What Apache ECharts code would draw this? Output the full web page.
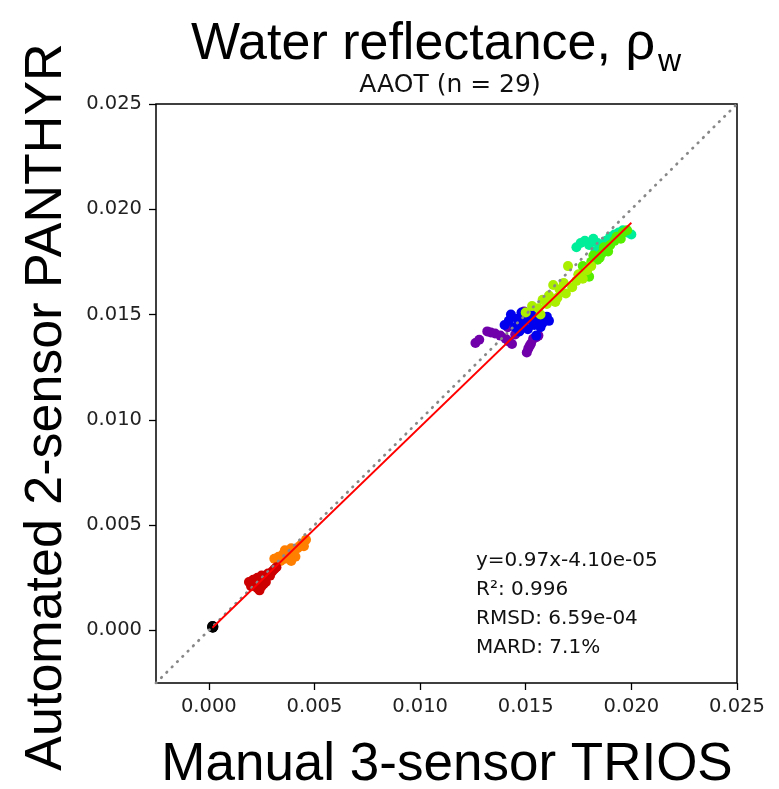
<!DOCTYPE html>
<html>
<head>
<meta charset="utf-8">
<script src="https://cdn.jsdelivr.net/npm/echarts@6/dist/echarts.min.js"></script>
<style>
  html, body { margin: 0; padding: 0; background: #fff; }
  #chart { width: 779px; height: 789px; }
</style>
</head>
<body>
<div id="chart"></div>
<script>
// === Données ===
const axisMin = -0.0025;
const axisMax = 0.025;
const tickValues = [0, 0.005, 0.010, 0.015, 0.020, 0.025];

const violetX = [0.01262, 0.01280, 0.01318, 0.01335, 0.01355, 0.01380, 0.01405, 0.01420, 0.01435, 0.01450, 0.01415, 0.01490, 0.01480, 0.01505, 0.01512, 0.01518, 0.01525, 0.01535, 0.01550, 0.01560, 0.01492, 0.01478];
const violetY = [0.01365, 0.01380, 0.01420, 0.01415, 0.01410, 0.01400, 0.01385, 0.01372, 0.01360, 0.01405, 0.01440, 0.01495, 0.01470, 0.01320, 0.01338, 0.01350, 0.01362, 0.01385, 0.01392, 0.01400, 0.01515, 0.01445];

const bleuX = [0.0140, 0.0142, 0.0143, 0.0145, 0.0146, 0.0148, 0.0149, 0.0150, 0.0152, 0.0153, 0.0154, 0.0155, 0.0156, 0.0157, 0.0158, 0.0160, 0.0161, 0.0151, 0.0147, 0.0155];
const bleuY = [0.0145, 0.0147, 0.0150, 0.0144, 0.0148, 0.0151, 0.0146, 0.0149, 0.0150, 0.0147, 0.0145, 0.0151, 0.0148, 0.0144, 0.0146, 0.0149, 0.0147, 0.0143, 0.0142, 0.0140];

const cyanX = [0.0174, 0.0176, 0.0178, 0.0180, 0.0182, 0.0184, 0.0186, 0.0188, 0.0190, 0.0192, 0.0194, 0.0196, 0.0198, 0.0200, 0.0183, 0.0189];
const cyanY = [0.0182, 0.0184, 0.0185, 0.0183, 0.0186, 0.0184, 0.0182, 0.0185, 0.0187, 0.0188, 0.0189, 0.0190, 0.0189, 0.0188, 0.0180, 0.0183];

const vertX = [0.0175, 0.0177, 0.0179, 0.0181, 0.0182, 0.0184, 0.0186, 0.0187, 0.0189, 0.0190, 0.0192, 0.0193, 0.0195, 0.0196, 0.0198, 0.0185, 0.0180];
const vertY = [0.0169, 0.0173, 0.0171, 0.0175, 0.0178, 0.0176, 0.0179, 0.0182, 0.0180, 0.0183, 0.0185, 0.0187, 0.0186, 0.0189, 0.0190, 0.0177, 0.0168];

const jauneVertX = [0.0150, 0.0153, 0.0156, 0.0158, 0.0160, 0.0161, 0.0163, 0.0165, 0.0166, 0.0168, 0.0170, 0.0172, 0.0174, 0.0175, 0.0177, 0.0179, 0.0181, 0.0169, 0.0164, 0.0157];
const jauneVertY = [0.0151, 0.0154, 0.0153, 0.0157, 0.0155, 0.0159, 0.0164, 0.0158, 0.0162, 0.0165, 0.0173, 0.0163, 0.0166, 0.0169, 0.0167, 0.0171, 0.0173, 0.0160, 0.0156, 0.0150];

const orangeX = [0.0031, 0.0033, 0.0034, 0.0035, 0.0036, 0.0037, 0.0038, 0.0038, 0.0039, 0.0040, 0.0040, 0.0041, 0.0042, 0.0043, 0.0044, 0.0045, 0.0046, 0.0036, 0.0039];
const orangeY = [0.0034, 0.0035, 0.0033, 0.0036, 0.0038, 0.0035, 0.0037, 0.0034, 0.0039, 0.0036, 0.0038, 0.0035, 0.0039, 0.0040, 0.0041, 0.0040, 0.0043, 0.0034, 0.0033];

const rougeX = [0.0019, 0.0020, 0.0021, 0.0022, 0.0023, 0.0023, 0.0024, 0.0025, 0.0025, 0.0026, 0.0026, 0.0027, 0.0028, 0.0029, 0.0030, 0.0031, 0.0032, 0.0024, 0.0022, 0.0027];
const rougeY = [0.0023, 0.0021, 0.0024, 0.0022, 0.0025, 0.0020, 0.0023, 0.0021, 0.0026, 0.0024, 0.0022, 0.0025, 0.0027, 0.0026, 0.0028, 0.0029, 0.0030, 0.0019, 0.0024, 0.0023];

const noirX = [0.00015, 0.00018, 0.00020, 0.00017, 0.00022, 0.00019];
const noirY = [0.00016, 0.00014, 0.00019, 0.00021, 0.00017, 0.00013];

// droite de régression
const penteFit = 0.97;
const ordFit = -4.10e-05;
const fitXBornes = [0.00017, 0.0200];

const statsLignes = ['y=0.97x-4.10e-05', 'R²: 0.996', 'RMSD: 6.59e-04', 'MARD: 7.1%'];

// === Construction ===
const groupes = [
    { x: violetX, y: violetY, couleur: '#7000aa' },
    { x: bleuX, y: bleuY, couleur: '#0000ee' },
    { x: cyanX, y: cyanY, couleur: '#00ee99' },
    { x: vertX, y: vertY, couleur: '#55ee00' },
    { x: jauneVertX, y: jauneVertY, couleur: '#aaee00' },
    { x: orangeX, y: orangeY, couleur: '#ff7f00' },
    { x: rougeX, y: rougeY, couleur: '#cc0000' },
    { x: noirX, y: noirY, couleur: '#000000' }
];

const series = groupes.map(g => ({
    type: 'scatter',
    symbolSize: 10,
    itemStyle: { color: g.couleur, opacity: 1 },
    data: g.x.map((v, i) => [v, g.y[i]]),
    z: 2
}));

series.push({
    type: 'line',
    data: [[axisMin, axisMin], [axisMax, axisMax]],
    symbol: 'none',
    lineStyle: { color: '#888', width: 2.8, type: [0.5, 7], cap: 'round' },
    z: 3
});

series.push({
    type: 'line',
    data: fitXBornes.map(x => [x, penteFit * x + ordFit]),
    symbol: 'none',
    lineStyle: { color: '#ff0000', width: 1.8 },
    z: 4
});

const axeCommun = {
    type: 'value',
    min: axisMin,
    max: axisMax,
    splitLine: { show: false },
    axisLine: { show: false, onZero: false },
    axisTick: { show: true, inside: false, length: 7, customValues: tickValues, lineStyle: { color: '#000', width: 1.3 } },
    axisLabel: { customValues: tickValues, margin: 14, fontFamily: 'DejaVu Sans', fontSize: 19.5, color: '#222', formatter: v => v.toFixed(3) }
};

const texteStats = statsLignes.map((t, i) => ({
    type: 'text',
    style: { text: t, x: 476, y: 561 + i * 28.8, font: '20px "DejaVu Sans"', fill: '#111', textAlign: 'left', align: 'left', textVerticalAlign: 'middle', verticalAlign: 'middle' }
}));

const myChart = echarts.init(document.getElementById('chart'));
myChart.setOption({
    animation: false,
    grid: { left: 156, right: 42, top: 104, bottom: 106, show: true, borderColor: '#000', borderWidth: 1.5, backgroundColor: 'transparent' },
    xAxis: axeCommun,
    yAxis: axeCommun,
    series,
    graphic: [
        { type: 'text', style: { text: 'Water reflectance, ρ', x: 655, y: 45, font: '52px "Liberation Sans"', fill: '#000', textAlign: 'right', align: 'right', textVerticalAlign: 'middle', verticalAlign: 'middle' } },
        { type: 'text', style: { text: 'w', x: 658, y: 62, font: '32px "Liberation Sans"', fill: '#000', textAlign: 'left', align: 'left', textVerticalAlign: 'middle', verticalAlign: 'middle' } },
        { type: 'text', style: { text: 'AAOT (n = 29)', x: 450, y: 85, font: '25px "DejaVu Sans"', fill: '#111', textAlign: 'center', align: 'center', textVerticalAlign: 'middle', verticalAlign: 'middle' } },
        { type: 'text', style: { text: 'Manual 3-sensor TRIOS', x: 447, y: 765, font: '53px "Liberation Sans"', fill: '#000', textAlign: 'center', align: 'center', textVerticalAlign: 'middle', verticalAlign: 'middle' } },
        { type: 'text', x: 47, y: 407, rotation: Math.PI / 2, style: { text: 'Automated 2-sensor PANTHYR', x: 0, y: 0, font: '52px "Liberation Sans"', fill: '#000', textAlign: 'center', align: 'center', textVerticalAlign: 'middle', verticalAlign: 'middle' } },
        ...texteStats
    ]
});
</script>
</body>
</html>
